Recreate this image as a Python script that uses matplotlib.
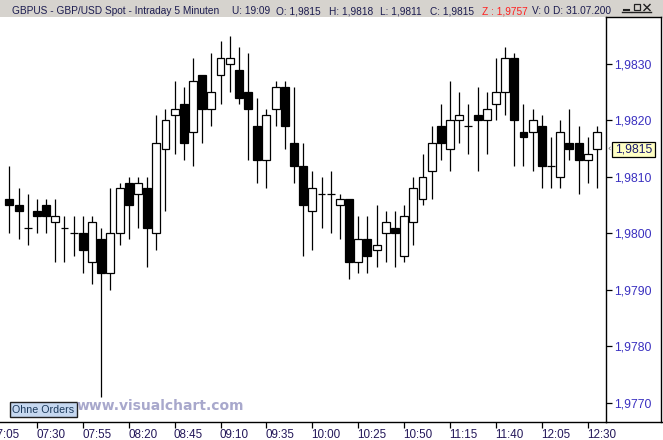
import matplotlib
matplotlib.use("Agg")
import matplotlib.pyplot as plt
from matplotlib.patches import Rectangle
from matplotlib.lines import Line2D

# 5-minute GBP/USD bars, first bar 07:15, last bar 12:35
opens = [1.9806, 1.9805, 1.9801, 1.9804, 1.9805, 1.9802, 1.9801, 1.9800, 1.9800, 1.9795,
         1.9799, 1.9793, 1.9800, 1.9809, 1.9807, 1.9808, 1.9800, 1.9815, 1.9821, 1.9823,
         1.9818, 1.9828, 1.9822, 1.9828, 1.9830, 1.9829, 1.9825, 1.9819, 1.9813, 1.9822,
         1.9826, 1.9816, 1.9812, 1.9804, 1.9807, 1.9807, 1.9805, 1.9806, 1.9795, 1.9799,
         1.9797, 1.9800, 1.9801, 1.9796, 1.9802, 1.9806, 1.9811, 1.9819, 1.9815, 1.9820,
         1.9819, 1.9821, 1.9820, 1.9823, 1.9825, 1.9831, 1.9818, 1.9818, 1.9819, 1.9812,
         1.9810, 1.9816, 1.9816, 1.9813, 1.9815]
highs = [1.9812, 1.9808, 1.9807, 1.9806, 1.9806, 1.9806, 1.9803, 1.9803, 1.9803, 1.9803,
         1.9801, 1.9808, 1.9809, 1.9810, 1.9810, 1.9810, 1.9821, 1.9822, 1.9827, 1.9826,
         1.9831, 1.9828, 1.9832, 1.9834, 1.9835, 1.9833, 1.9832, 1.9824, 1.9822, 1.9827,
         1.9827, 1.9826, 1.9816, 1.9811, 1.9810, 1.9811, 1.9807, 1.9806, 1.9803, 1.9803,
         1.9805, 1.9804, 1.9804, 1.9805, 1.9810, 1.9814, 1.9819, 1.9823, 1.9827, 1.9825,
         1.9823, 1.9826, 1.9825, 1.9831, 1.9833, 1.9832, 1.9823, 1.9822, 1.9821, 1.9817,
         1.9820, 1.9822, 1.9819, 1.9817, 1.9819]
lows = [1.9800, 1.9799, 1.9798, 1.9800, 1.9800, 1.9795, 1.9795, 1.9796, 1.9793, 1.9791,
        1.9771, 1.9790, 1.9798, 1.9799, 1.9801, 1.9794, 1.9797, 1.9804, 1.9814, 1.9813,
        1.9812, 1.9816, 1.9819, 1.9823, 1.9825, 1.9823, 1.9813, 1.9809, 1.9808, 1.9819,
        1.9815, 1.9809, 1.9796, 1.9797, 1.9801, 1.9800, 1.9799, 1.9792, 1.9793, 1.9793,
        1.9794, 1.9795, 1.9794, 1.9795, 1.9798, 1.9805, 1.9806, 1.9813, 1.9811, 1.9816,
        1.9814, 1.9811, 1.9814, 1.9820, 1.9821, 1.9812, 1.9812, 1.9811, 1.9808, 1.9808,
        1.9808, 1.9813, 1.9807, 1.9809, 1.9808]
closes = [1.9805, 1.9804, 1.9801, 1.9803, 1.9803, 1.9803, 1.9801, 1.9800, 1.9797, 1.9802,
          1.9793, 1.9800, 1.9808, 1.9805, 1.9809, 1.9801, 1.9816, 1.9820, 1.9822, 1.9816,
          1.9827, 1.9822, 1.9825, 1.9831, 1.9831, 1.9824, 1.9822, 1.9813, 1.9821, 1.9826,
          1.9819, 1.9812, 1.9805, 1.9808, 1.9807, 1.9807, 1.9806, 1.9795, 1.9799, 1.9796,
          1.9798, 1.9802, 1.9800, 1.9803, 1.9808, 1.9810, 1.9816, 1.9816, 1.9820, 1.9821,
          1.9819, 1.9820, 1.9822, 1.9825, 1.9831, 1.9820, 1.9817, 1.9820, 1.9812, 1.9812,
          1.9818, 1.9815, 1.9813, 1.9814, 1.9818]

time_labels = ["07:05", "07:30", "07:55", "08:20", "08:45", "09:10", "09:35",
               "10:00", "10:25", "10:50", "11:15", "11:40", "12:05", "12:30"]
time_bars = [-2, 3, 8, 13, 18, 23, 28, 33, 38, 43, 48, 53, 58, 63]
price_ticks = [1.9770, 1.9780, 1.9790, 1.9800, 1.9810, 1.9820, 1.9830]
last_price = 1.9815

title_texts = ["GBPUS - GBP/USD Spot - Intraday 5 Minuten", "U: 19:09", "O: 1,9815",
               "H: 1,9818", "L: 1,9811", "C: 1,9815", "Z : 1,9757", "V: 0", "D: 31.07.200"]
title_colors = ["#1c1c50"] * 6 + ["#ff2020"] + ["#1c1c50"] * 2
title_x = [12, 232, 276, 329, 379.5, 430, 482, 532, 553]

W, H = 663, 440
fx = lambda x: x / W
fy = lambda y: 1 - y / H
FONT = "Liberation Sans"

fig = plt.figure(figsize=(W / 100, H / 100), dpi=100)
fig.patch.set_facecolor("white")

# title bar
fig.add_artist(Rectangle((0, fy(17)), 1, 17 / H, transform=fig.transFigure,
                         facecolor="#d6d3ce", edgecolor="none", zorder=0))
for t, c, x in zip(title_texts, title_colors, title_x):
    fig.text(fx(x), fy(14.3), t, color=c, family=FONT, size=7.3, va="baseline", ha="left")

# window buttons
btn = dict(transform=fig.transFigure, color="#202020", lw=1.0)
for x0 in (622, 632, 642):
    fig.add_artist(Line2D([fx(x0), fx(x0 + 9)], [fy(12.5), fy(12.5)], **btn))
fig.add_artist(Line2D([fx(624), fx(629)], [fy(10.5), fy(10.5)], transform=fig.transFigure, color="#202020", lw=1.5))
fig.add_artist(Rectangle((fx(634), fy(10.5)), fx(6), 6 / H, transform=fig.transFigure,
                         facecolor="none", edgecolor="#202020", lw=0.9))
fig.add_artist(Line2D([fx(644), fx(650)], [fy(4.5), fy(10.5)], **btn))
fig.add_artist(Line2D([fx(644), fx(650)], [fy(10.5), fy(4.5)], **btn))

ax = fig.add_axes([0, fy(422), fx(606), (422 - 17) / H])
ax.set_facecolor("white")

w = 0.86
for i, (o, h, l, c) in enumerate(zip(opens, highs, lows, closes)):
    ax.vlines(i, l, h, color="black", lw=0.9, zorder=2)
    if o == c:
        ax.hlines(o, i - w / 2, i + w / 2, color="black", lw=0.9, zorder=3)
    else:
        fc = "white" if c > o else "black"
        ax.add_patch(Rectangle((i - w / 2, min(o, c)), w, abs(c - o),
                               facecolor=fc, edgecolor="black", lw=0.9, zorder=3))

ax.set_xlim(-9.4 / 9.18, (606 - 9.4) / 9.18)
ax.set_ylim(1.9830 - 358 / 56450, 1.9830 + 47 / 56450)

for s in ("left", "top"):
    ax.spines[s].set_visible(False)
for s in ("right", "bottom"):
    ax.spines[s].set_color("black")
    ax.spines[s].set_linewidth(1.0)

ax.yaxis.tick_right()
ax.set_yticks(price_ticks)
ax.set_yticklabels([f"{p:.4f}".replace(".", ",") for p in price_ticks],
                   color="#3a30c0", family=FONT, size=8.7)
ax.tick_params(axis="y", length=4, width=0.9, pad=1.5, direction="out")

ax.set_xticks([b for b in time_bars if b >= 0])
ax.set_xticklabels([])
ax.tick_params(axis="x", length=4, width=0.9, direction="out")
for lbl, b in zip(time_labels, time_bars):
    ax.annotate(lbl, xy=(b, 0), xycoords=("data", "axes fraction"), xytext=(-0.5, -4.8),
                textcoords="offset points", ha="left", va="top", color="#24185a",
                family=FONT, size=8.4, annotation_clip=False)

# right panel frame
ln = dict(transform=fig.transFigure, color="black", lw=1.0)
fig.add_artist(Line2D([fx(606), fx(661)], [fy(17), fy(17)], **ln))
fig.add_artist(Line2D([fx(661), fx(661)], [fy(17), fy(422)], **ln))
fig.add_artist(Line2D([fx(606), fx(663)], [fy(422), fy(422)], **ln))

# last price marker
fig.add_artist(Rectangle((fx(612), fy(156.5)), fx(43), 15 / H, transform=fig.transFigure,
                         facecolor="#ffffc4", edgecolor="black", lw=0.9))
fig.text(fx(633.5), fy(149.5), f"{last_price:.4f}".replace(".", ","), color="#1a1a70",
         family=FONT, size=8.7, ha="center", va="center")
fig.text(fx(609.5), fy(149), "‹", color="#606060", family="DejaVu Sans", size=6, ha="center", va="center")

# order box and watermark
fig.add_artist(Rectangle((fx(9.5), fy(416.5)), fx(67), 14.5 / H, transform=fig.transFigure,
                         facecolor="#c6d8f0", edgecolor="#202020", lw=1.0))
fig.text(fx(43), fy(409.5), "Ohne Orders", color="#1c3a5c", family=FONT, size=7.7,
         ha="center", va="center")
fig.text(fx(76.5), fy(406), "www.visualchart.com", color="#a8a8cc", family="DejaVu Sans",
         weight="bold", size=10, ha="left", va="center")

fig.savefig("out.png", dpi=100)
